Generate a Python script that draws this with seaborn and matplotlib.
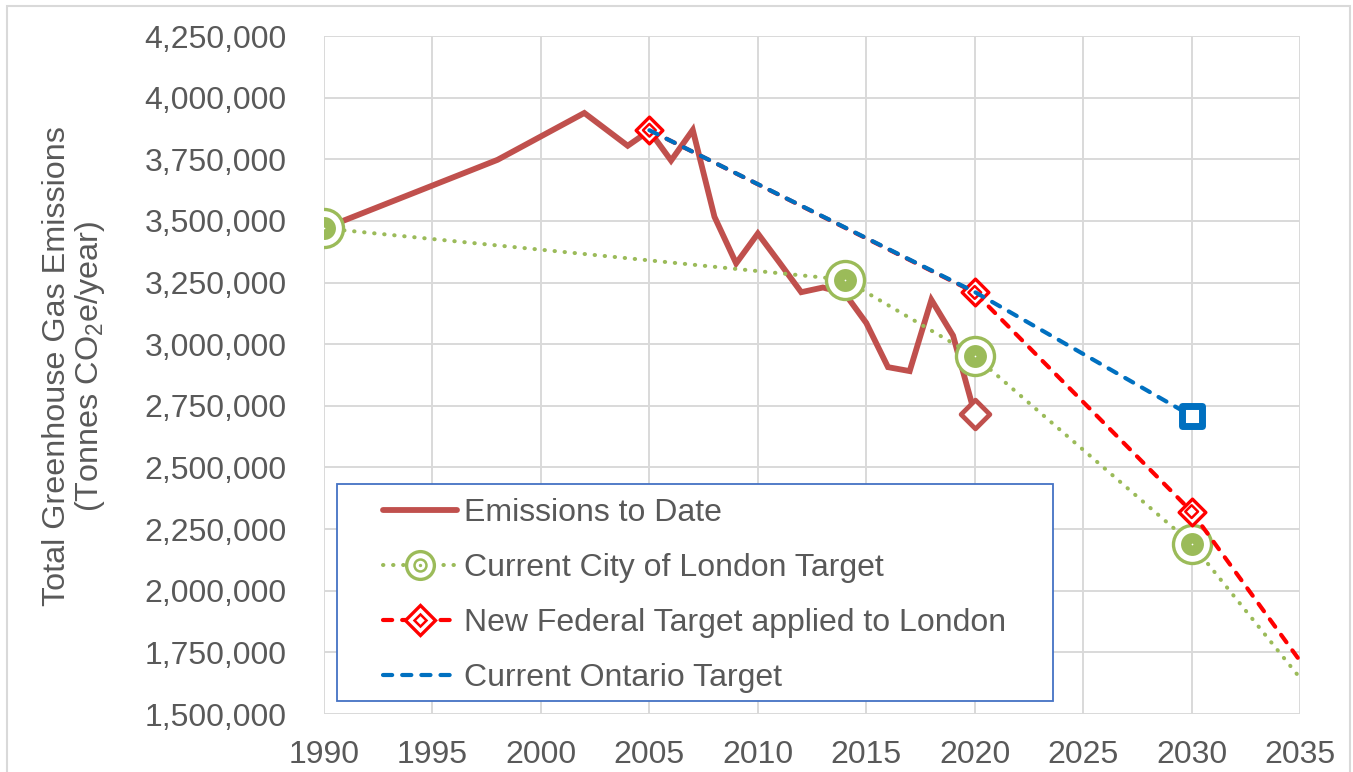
"""
Total greenhouse gas emissions for London compared with
the city, federal and Ontario reduction targets.
"""

import pandas as pd
import matplotlib.pyplot as plt
from matplotlib.lines import Line2D
from matplotlib.patches import Rectangle
import seaborn as sns

emis_years = [1990, 1998, 2002, 2004, 2005, 2006, 2007, 2008, 2009, 2010,
              2011, 2012, 2013, 2014, 2015, 2016, 2017, 2018, 2019, 2020]
emis_values = [3470000, 3748000, 3938000, 3805000, 3866000, 3745000,
               3869000, 3517000, 3328000, 3449000, 3331000, 3211000,
               3230000, 3207000, 3086000, 2907000, 2891000, 3180000,
               3035000, 2717000]

city_years = [1990, 2014, 2020, 2030, 2035]
city_values = [3470000, 3262000, 2952000, 2191000, 1646000]

federal_years = [2005, 2020, 2030, 2035]
federal_values = [3868000, 3210000, 2321000, 1715000]

ontario_years = [2005, 2020, 2030]
ontario_values = [3868000, 3212000, 2709000]

labels = ['Emissions to Date', 'Current City of London Target',
          'New Federal Target applied to London', 'Current Ontario Target']

EMIS = '#C0504D'
GREEN = '#9BBB59'
RED = '#FF0000'
BLUE = '#0070C0'
TEXT = '#595959'
GRID = '#D9D9D9'
DOT = (0, (0.1, 2.4))
DASH = (0, (2.2, 2.4))


def plot():
    sns.set_theme(style='whitegrid')
    plt.rcParams['font.family'] = ['Liberation Sans', 'DejaVu Sans']
    plt.rcParams['mathtext.fontset'] = 'custom'
    plt.rcParams['mathtext.rm'] = 'Liberation Sans'
    plt.rcParams['mathtext.it'] = 'Liberation Sans:italic'

    fig = plt.figure(figsize=(13.53, 7.72), dpi=100)
    ax = fig.add_axes([0.2395, 0.0751, 0.7214, 0.8782])

    # lines
    sns.lineplot(x=emis_years, y=emis_values, ax=ax, color=EMIS,
                 linewidth=4.2, solid_joinstyle='miter', zorder=2)
    sns.lineplot(x=city_years, y=city_values, ax=ax, color=GREEN,
                 linewidth=2.9, linestyle=DOT, dash_capstyle='round',
                 zorder=3)
    sns.lineplot(x=federal_years, y=federal_values, ax=ax, color=RED,
                 linewidth=3.0, linestyle=DASH, dash_capstyle='round',
                 zorder=4)
    sns.lineplot(x=ontario_years, y=ontario_values, ax=ax, color=BLUE,
                 linewidth=3.0, linestyle=DASH, dash_capstyle='round',
                 zorder=5)

    # markers
    sns.scatterplot(x=emis_years[-1:], y=emis_values[-1:], ax=ax,
                    marker='D', s=215, color='white', edgecolor=EMIS,
                    linewidth=3.4, zorder=2.5)
    sns.scatterplot(x=city_years[:4], y=city_values[:4], ax=ax, marker='o',
                    s=750, color='white', edgecolor=GREEN, linewidth=2.4,
                    zorder=3.1)
    sns.scatterplot(x=city_years[:4], y=city_values[:4], ax=ax, marker='o',
                    s=272, color=GREEN, linewidth=0, zorder=3.2)
    sns.scatterplot(x=city_years[:4], y=city_values[:4], ax=ax, marker='o',
                    s=1.5, color='white', linewidth=0, zorder=3.3)
    sns.scatterplot(x=federal_years[:3], y=federal_values[:3], ax=ax,
                    marker='D', s=185, color='white', edgecolor=RED,
                    linewidth=2.4, zorder=4.1)
    sns.scatterplot(x=federal_years[:3], y=federal_values[:3], ax=ax,
                    marker='D', s=42, color='none', edgecolor=RED,
                    linewidth=1.8, zorder=4.2)
    sns.scatterplot(x=ontario_years[-1:], y=ontario_values[-1:], ax=ax,
                    marker='s', s=228, color='white', edgecolor=BLUE,
                    linewidth=5, zorder=5.1)

    ax.set_xlim(1990, 2035)
    ax.set_ylim(1500000, 4250000)
    ax.set_xticks(range(1990, 2036, 5))
    ax.set_yticks(range(1500000, 4250001, 250000))
    ax.yaxis.set_major_formatter('{x:,.0f}')
    ax.tick_params(axis='y', length=0, pad=27, labelsize=23,
                   labelcolor=TEXT)
    ax.tick_params(axis='x', length=0, pad=19, labelsize=23,
                   labelcolor=TEXT)
    ax.grid(True, color=GRID, lw=1.4)
    for s in ax.spines.values():
        s.set_visible(False)

    ax.set_ylabel('Total Greenhouse Gas Emissions\n(Tonnes CO$_2$e/year)',
                  fontsize=23.3, color=TEXT, linespacing=1.05)
    ax.yaxis.set_label_coords(-0.222, 0.513)

    # legend
    h_emis = Line2D([], [], color=EMIS, lw=4.2, solid_capstyle='round')
    h_city = (Line2D([], [], color=GREEN, lw=2.9, linestyle=DOT,
                     dash_capstyle='round', marker='o', ms=20,
                     mfc='white', mec=GREEN, mew=2.4),
              Line2D([], [], ls='none', marker='o', ms=8.6, mfc='none',
                     mec=GREEN, mew=1.8),
              Line2D([], [], ls='none', marker='o', ms=2.4, mfc=GREEN,
                     mec=GREEN, mew=0))
    h_fed = (Line2D([], [], color=RED, lw=3.0, linestyle=DASH,
                    dash_capstyle='round', marker='D', ms=15, mfc='white',
                    mec=RED, mew=2.4),
             Line2D([], [], ls='none', marker='D', ms=6, mfc='none',
                    mec=RED, mew=1.8))
    h_ont = Line2D([], [], color=BLUE, lw=3.0, linestyle=DASH,
                   dash_capstyle='round')

    box = Rectangle((0.0133, 0.0192), 0.7336, 0.320, transform=ax.transAxes,
                    facecolor='white', edgecolor='#4472C4', lw=1.3,
                    zorder=10)
    ax.add_patch(box)
    leg = ax.legend([h_emis, h_city, h_fed, h_ont], labels,
                    loc='upper left', bbox_to_anchor=(0.0605, 0.318),
                    frameon=False, borderpad=0, borderaxespad=0,
                    handlelength=2.3, handletextpad=0.22, labelspacing=0.78,
                    fontsize=23, labelcolor=TEXT)
    leg.set_zorder(11)

    border = Rectangle((7 / 1353, -0.01), 1343 / 1353, 1 - 6 / 772 + 0.01,
                       transform=fig.transFigure, fill=False,
                       edgecolor=GRID, lw=1.5)
    fig.patches.append(border)

    fig.savefig('out.png', dpi=100)


def main():
    plot()


if __name__ == '__main__':
    main()
